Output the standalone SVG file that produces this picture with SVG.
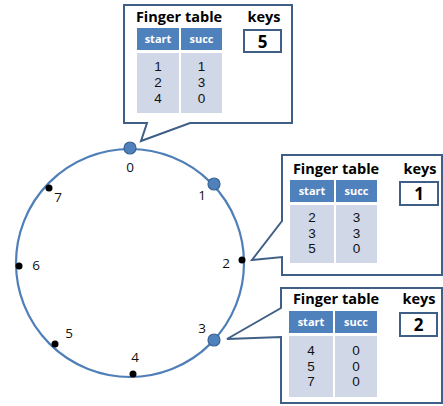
<svg xmlns="http://www.w3.org/2000/svg" width="443" height="406" viewBox="0 0 443 406">
<style>
.ring{fill:none;stroke:#4f7fb8;stroke-width:2.2}
.big{fill:#4f81bd;stroke:#3a6496;stroke-width:1.2}
.dot{fill:#000}
.lbl{font-family:"Open Sans","Noto Sans",sans-serif;font-size:13.5px;fill:#111;text-anchor:middle}
.call{fill:#fff;stroke:#3f5f86;stroke-width:2;stroke-linejoin:miter}
.title{font-family:"Open Sans","Noto Sans",sans-serif;font-size:14.5px;font-weight:bold;fill:#000;text-anchor:middle}
.hd{fill:#4f81bd}
.bd{fill:#d0d8e8}
.ht{font-family:"Open Sans","Noto Sans",sans-serif;font-size:11px;font-weight:bold;fill:#fff;text-anchor:middle}
.v{font-family:"Liberation Sans",Arial,sans-serif;font-size:13.5px;fill:#111;text-anchor:middle}
.kb{fill:#fff;stroke:#3f5f86;stroke-width:2}
.kv{font-family:"Open Sans","Noto Sans",sans-serif;font-size:17px;font-weight:bold;fill:#000;text-anchor:middle}
</style>
<g id="ring">
<circle class="ring" cx="130" cy="263" r="114"/>
</g>
<g id="connectors">
<path class="call" d="M124,5 H292 V123 H190 L141,141 L147,123 H124 Z"/>
<path class="call" d="M282,155 H442 V275 H282 V257 L252,260 L282,221 Z"/>
<path class="call" d="M281,288 H442 V403 H281 V337 L227,339 L281,308 Z"/>
</g>
<g id="n0"><circle class="big" cx="130" cy="148" r="6"/><text class="lbl" x="130" y="172">0</text></g>
<g id="n1"><circle class="big" cx="214" cy="184" r="6"/><text class="lbl" x="202" y="200">1</text></g>
<g id="n2"><circle class="dot" cx="242" cy="260" r="3.5"/><text class="lbl" x="226" y="268">2</text></g>
<g id="n3"><circle class="big" cx="214" cy="340" r="6"/><text class="lbl" x="202" y="333">3</text></g>
<g id="n4"><circle class="dot" cx="133" cy="374" r="3.5"/><text class="lbl" x="135" y="362">4</text></g>
<g id="n5"><circle class="dot" cx="55" cy="344" r="3.5"/><text class="lbl" x="69" y="338">5</text></g>
<g id="n6"><circle class="dot" cx="19" cy="266" r="3.5"/><text class="lbl" x="36" y="270">6</text></g>
<g id="n7"><circle class="dot" cx="49" cy="188" r="3.5"/><text class="lbl" x="58" y="202">7</text></g>
<g id="table0">
<text class="title" x="179" y="22">Finger table</text>
<rect class="hd" x="137" y="28" width="42" height="22"/><rect class="hd" x="181" y="28" width="41" height="22"/>
<text class="ht" x="158" y="43">start</text><text class="ht" x="201.5" y="43">succ</text>
<rect class="bd" x="137" y="53" width="42" height="60"/><rect class="bd" x="181" y="53" width="41" height="60"/>
<text class="v" x="158" y="71">1</text><text class="v" x="201.5" y="71">1</text>
<text class="v" x="158" y="87">2</text><text class="v" x="201.5" y="87">3</text>
<text class="v" x="158" y="103">4</text><text class="v" x="201.5" y="103">0</text>
<text class="title" x="264" y="22">keys</text>
<rect class="kb" x="244" y="30" width="37" height="22"/>
<text class="kv" x="262.5" y="48">5</text>
</g>
<g id="table1">
<text class="title" x="336" y="174">Finger table</text>
<rect class="hd" x="290" y="180" width="44" height="22"/><rect class="hd" x="336" y="180" width="41" height="22"/>
<text class="ht" x="312" y="195">start</text><text class="ht" x="356.5" y="195">succ</text>
<rect class="bd" x="290" y="205" width="44" height="58"/><rect class="bd" x="336" y="205" width="41" height="58"/>
<text class="v" x="312" y="222">2</text><text class="v" x="356.5" y="222">3</text>
<text class="v" x="312" y="237.5">3</text><text class="v" x="356.5" y="237.5">3</text>
<text class="v" x="312" y="253">5</text><text class="v" x="356.5" y="253">0</text>
<text class="title" x="420" y="174">keys</text>
<rect class="kb" x="400" y="182" width="38" height="23"/>
<text class="kv" x="419" y="200">1</text>
</g>
<g id="table3">
<text class="title" x="336" y="304">Finger table</text>
<rect class="hd" x="289" y="311" width="44" height="22"/><rect class="hd" x="335" y="311" width="42" height="22"/>
<text class="ht" x="311" y="326">start</text><text class="ht" x="356" y="326">succ</text>
<rect class="bd" x="289" y="336" width="44" height="61"/><rect class="bd" x="335" y="336" width="42" height="61"/>
<text class="v" x="311" y="355">4</text><text class="v" x="356" y="355">0</text>
<text class="v" x="311" y="370.5">5</text><text class="v" x="356" y="370.5">0</text>
<text class="v" x="311" y="386">7</text><text class="v" x="356" y="386">0</text>
<text class="title" x="419" y="304">keys</text>
<rect class="kb" x="400" y="313" width="37" height="23"/>
<text class="kv" x="418.5" y="331">2</text>
</g>
</svg>
